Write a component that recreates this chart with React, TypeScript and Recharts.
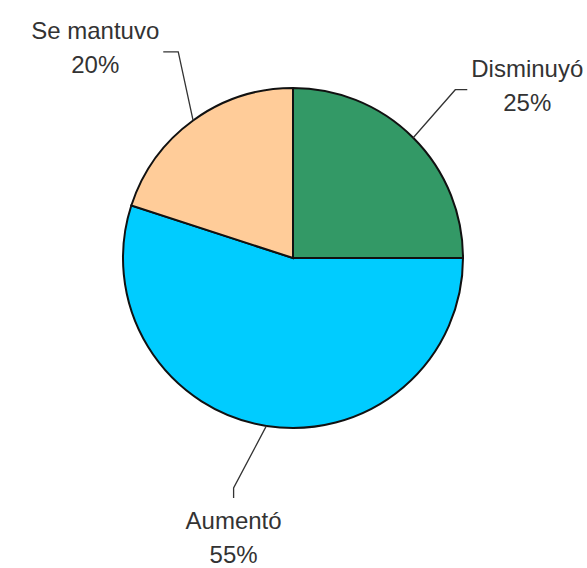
import { Cell, Pie, PieChart } from "recharts";

const categorias = ["Disminuyó", "Aumentó", "Se mantuvo"];
const valores = [25, 55, 20];
const colores = ["#339966", "#00CCFF", "#FFCC99"];

const FONT_SIZE = 24;
const RADIAN = Math.PI / 180;

const data = categorias.map((name, i) => ({ name, value: valores[i] }));

function medir(texto: string) {
  const canvas = document.createElement("canvas");
  const ctx = canvas.getContext("2d");
  if (!ctx) return texto.length * 13;
  ctx.font = `${FONT_SIZE}px "Liberation Sans", Arial, sans-serif`;
  return ctx.measureText(texto).width;
}

// etiqueta al estilo Excel: línea guía con codo y texto en dos renglones
function Etiqueta(props: any) {
  const { cx, cy, midAngle, outerRadius, name, percent } = props;
  const izq = Math.cos(-midAngle * RADIAN) < 0;
  const a = (midAngle - (izq ? 6 : 0)) * RADIAN;
  const sx = cx + outerRadius * Math.cos(-midAngle * RADIAN);
  const sy = cy + outerRadius * Math.sin(-midAngle * RADIAN);
  const ex = cx + outerRadius * 1.35 * Math.cos(-a);
  const ey = cy + outerRadius * 1.4 * Math.sin(-a);
  const pct = `${Math.round(percent * 100)}%`;
  const ancho = Math.max(medir(name), medir(pct));
  const abajo = Math.sin(-a) > 0.8;

  let hx = ex;
  let hy = ey;
  let tx = ex;
  let ty = ey;
  if (abajo) {
    hy = ey + 10;
    ty = hy + 31;
  } else {
    const dir = izq ? -1 : 1;
    hx = ex + dir * (izq ? 15 : 12);
    tx = hx + dir * (4 + ancho / 2);
    ty = hy - 13;
  }

  const estilo = {
    fontFamily: '"Liberation Sans", Arial, sans-serif',
    fontSize: FONT_SIZE,
    fill: "#333",
  };

  return (
    <g>
      <polyline
        points={`${sx},${sy} ${ex},${ey} ${hx},${hy}`}
        fill="none"
        stroke="#333"
        strokeWidth={1.3}
      />
      <text x={tx} y={ty} textAnchor="middle" style={estilo}>
        {name}
      </text>
      <text x={tx} y={ty + 34} textAnchor="middle" style={estilo}>
        {pct}
      </text>
    </g>
  );
}

export default function App() {
  return (
    <div style={{ position: "absolute", left: 0, top: 0, background: "#fff" }}>
      <PieChart width={587} height={568} margin={{ top: 0, right: 0, bottom: 0, left: 0 }}>
        <Pie
          data={data}
          dataKey="value"
          nameKey="name"
          cx={293}
          cy={258}
          outerRadius={170}
          startAngle={90}
          endAngle={-270}
          stroke="#111"
          strokeWidth={2}
          label={Etiqueta}
          labelLine={false}
          isAnimationActive={false}
        >
          {data.map((d, i) => (
            <Cell key={d.name} fill={colores[i]} />
          ))}
        </Pie>
      </PieChart>
    </div>
  );
}
